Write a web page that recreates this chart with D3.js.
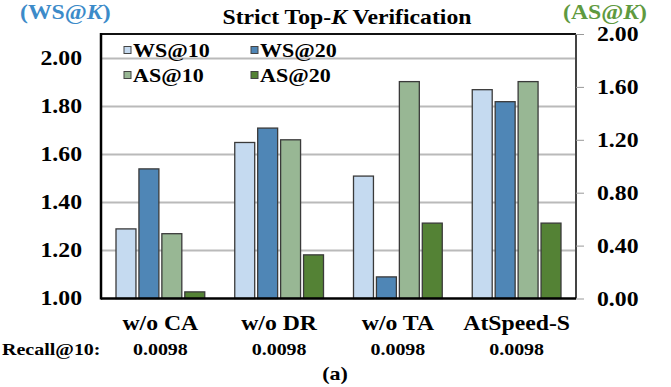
<!DOCTYPE html>
<html>
<head>
<meta charset="utf-8">
<script src="https://cdn.jsdelivr.net/npm/d3@7"></script>
<style>
  html, body { margin: 0; padding: 0; background: #fff; }
  svg text { font-family: "Liberation Serif", "Times New Roman", serif; font-weight: bold; }
</style>
</head>
<body>
<svg id="svg" width="671" height="387"></svg>
<script>
// values
const categories = ['w/o CA', 'w/o DR', 'w/o TA', 'AtSpeed-S'];
const series = ['WS@10', 'WS@20', 'AS@10', 'AS@20'];
const ws10 = [1.29, 1.65, 1.51, 1.87];
const ws20 = [1.54, 1.71, 1.09, 1.82];
const as10 = [0.49, 1.20, 1.64, 1.64];
const as20 = [0.05, 0.33, 0.57, 0.57];
const recallValues = ['0.0098', '0.0098', '0.0098', '0.0098'];
const leftTicks = [1.00, 1.20, 1.40, 1.60, 1.80, 2.00];
const rightTicks = [0.00, 0.40, 0.80, 1.20, 1.60, 2.00];

const colors = {'WS@10': '#c5daf0', 'WS@20': '#4f86b6', 'AS@10': '#98b794', 'AS@20': '#548235'};
const seriesData = {'WS@10': ws10, 'WS@20': ws20, 'AS@10': as10, 'AS@20': as20};

const plotLeft = 101, plotRight = 576, plotTop = 34, plotBottom = 298.5;
// the source figure was stretched sideways, text looks wide
const sx = 1.13;
const place = (x, y) => `translate(${x},${y}) scale(${sx},1)`;

const svg = d3.select('#svg');

const x = d3.scaleBand().domain(categories).range([plotLeft, plotRight]);
const xInner = d3.scaleBand().domain(series)
  .range([15, x.bandwidth() - 15]).paddingInner(0.13);
const yL = d3.scaleLinear().domain([1, 2.102]).range([plotBottom, plotTop]);
const yR = d3.scaleLinear().domain([0, 2]).range([plotBottom, plotTop]);

/*********************
 * grid + bars
 *********************/
svg.append('g').selectAll('line')
  .data(leftTicks.filter(d => d > 1))
  .enter().append('line')
  .attr('x1', plotLeft).attr('x2', plotRight)
  .attr('y1', d => yL(d)).attr('y2', d => yL(d))
  .attr('stroke', '#bababa').attr('stroke-width', 2);

const rows = [];
categories.forEach((c, i) => {
  series.forEach(s => rows.push({cat: c, s: s, v: seriesData[s][i]}));
});

const yOf = d => d.s.startsWith('WS') ? yL(d.v) : yR(d.v);

svg.append('g').selectAll('rect')
  .data(rows)
  .enter().append('rect')
  .attr('x', d => x(d.cat) + xInner(d.s))
  .attr('width', xInner.bandwidth())
  .attr('y', yOf)
  .attr('height', d => plotBottom - yOf(d))
  .attr('fill', d => colors[d.s])
  .attr('stroke', '#3a3a3a')
  .attr('stroke-width', 1.3);

/*********************
 * axes
 *********************/
svg.append('line').attr('x1', plotLeft).attr('x2', plotRight).attr('y1', plotTop).attr('y2', plotTop)
  .attr('stroke', '#111').attr('stroke-width', 2);
svg.append('line').attr('x1', plotRight).attr('x2', plotRight).attr('y1', plotTop).attr('y2', plotBottom)
  .attr('stroke', '#444').attr('stroke-width', 2);
svg.append('line').attr('x1', plotLeft).attr('x2', plotLeft).attr('y1', plotTop - 1).attr('y2', plotBottom + 1)
  .attr('stroke', '#000').attr('stroke-width', 2.5);
svg.append('line').attr('x1', plotLeft).attr('x2', plotRight).attr('y1', plotBottom).attr('y2', plotBottom)
  .attr('stroke', '#000').attr('stroke-width', 2.5);

// left tick labels
svg.append('g').selectAll('text')
  .data(leftTicks)
  .enter().append('text')
  .attr('transform', d => place(82, yL(d)))
  .attr('dy', '0.33em')
  .attr('text-anchor', 'end')
  .style('font-size', '21px')
  .text(d => d.toFixed(2));

// right axis ticks + labels
const rAxis = d3.axisRight(yR).tickValues(rightTicks).tickSize(8).tickFormat(d => d.toFixed(2));
const rg = svg.append('g').attr('transform', `translate(${plotRight},0)`).call(rAxis);
rg.select('.domain').remove();
rg.selectAll('.tick line').attr('stroke', '#999');
rg.selectAll('.tick text')
  .attr('x', 0).attr('dy', '0.33em')
  .attr('transform', place(21, 0))
  .style('text-anchor', 'start')
  .style('font-size', '21px').attr('fill', '#000');

/*********************
 * labels
 *********************/
svg.append('g').selectAll('text')
  .data(categories)
  .enter().append('text')
  .attr('transform', d => place(x(d) + x.bandwidth() / 2, 330))
  .attr('text-anchor', 'middle')
  .style('font-size', '21px')
  .text(d => d);

svg.append('text').attr('transform', place(2, 355))
  .style('font-size', '17.7px').text('Recall@10:');

svg.append('g').selectAll('text')
  .data(recallValues)
  .enter().append('text')
  .attr('transform', (d, i) => place(x(categories[i]) + x.bandwidth() / 2, 355))
  .attr('text-anchor', 'middle')
  .style('font-size', '17.7px')
  .text(d => d);

svg.append('text').attr('transform', place(335, 380))
  .attr('text-anchor', 'middle').style('font-size', '19.5px').text('(a)');

const title = svg.append('text').attr('transform', place(347, 24))
  .attr('text-anchor', 'middle').style('font-size', '21px');
title.append('tspan').text('Strict Top-');
title.append('tspan').style('font-style', 'italic').text('K');
title.append('tspan').text(' Verification');

const wsLab = svg.append('text').attr('transform', place(20, 19))
  .style('font-size', '21px').attr('fill', '#3c8bc9');
wsLab.append('tspan').text('(WS@');
wsLab.append('tspan').style('font-style', 'italic').text('K');
wsLab.append('tspan').text(')');

const asLab = svg.append('text').attr('transform', place(563, 19))
  .style('font-size', '21px').attr('fill', '#5f9a40');
asLab.append('tspan').text('(AS@');
asLab.append('tspan').style('font-style', 'italic').text('K');
asLab.append('tspan').text(')');

// legend
const legend = svg.append('g').selectAll('g')
  .data(series)
  .enter().append('g')
  .attr('transform', (d, i) => `translate(${124 + (i % 2) * 127},${50 + Math.floor(i / 2) * 25})`);
legend.append('rect')
  .attr('x', 0).attr('y', -3.5).attr('width', 7).attr('height', 7)
  .attr('fill', d => colors[d]).attr('stroke', '#444').attr('stroke-width', 1);
legend.append('text')
  .attr('transform', place(9, 0))
  .attr('dy', '0.35em')
  .style('font-size', '19.5px')
  .text(d => d);
</script>
</body>
</html>
